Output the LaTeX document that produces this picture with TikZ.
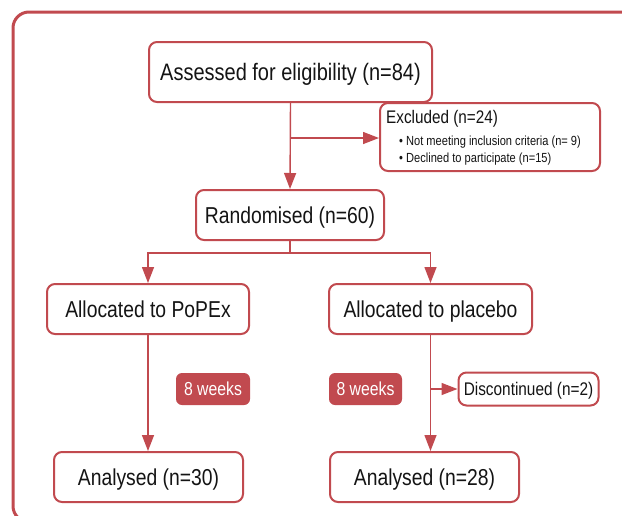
\documentclass[tikz,border=0pt]{standalone}
\usepackage{fontspec}
\setmainfont{Liberation Sans}[FakeStretch=0.84]
\usetikzlibrary{arrows.meta}
\definecolor{cred}{RGB}{193,74,79}
\definecolor{ctext}{RGB}{20,20,20}
\begin{document}
\begin{tikzpicture}[x=1pt,y=-1pt,
  box/.style={draw=cred, line width=2pt, rounded corners=8pt, fill=white, text=ctext, inner sep=0pt, text height=16.5pt, text depth=0pt, font=\fontsize{23}{27}\selectfont},
  wk/.style={fill=cred, rounded corners=6pt, text=white, inner sep=0pt, minimum height=32pt, text height=13.5pt, text depth=0pt, font=\fontsize{18.8}{22}\selectfont},
  txt/.style={anchor=base west, inner sep=0pt, text=ctext},
  conn/.style={draw=cred, line width=1.4pt},
  arr/.style={conn, -{Triangle[length=16pt,width=12pt]}}]
\useasboundingbox (0,0) rectangle (622,515);
\draw[cred, line width=3pt, rounded corners=16pt] (13,12) rectangle (645,522);

\node[box, minimum width=283pt, minimum height=60pt, text height=17pt, font=\fontsize{23.8}{28}\selectfont] (assess) at (290.5,72) {Assessed for eligibility (n=84)};
\node[draw=cred, line width=2pt, rounded corners=8pt, fill=white, minimum width=220pt, minimum height=68pt, anchor=north west, inner sep=0pt] (excl) at (379,102) {};
\node[txt, font=\fontsize{18.2}{21}\selectfont] (exclt) at (386,123) {Excluded (n=24)};
\node[txt, font=\fontsize{13.2}{15}\selectfont] (exb1) at (399,145) {• Not meeting inclusion criteria (n= 9)};
\node[txt, font=\fontsize{13.2}{15}\selectfont] (exb2) at (399,162.5) {• Declined to participate (n=15)};
\node[box, minimum width=188pt, minimum height=50pt] (rand) at (290,215) {Randomised (n=60)};
\node[box, minimum width=202pt, minimum height=50pt] (alloc1) at (148,309) {Allocated to PoPEx};
\node[box, minimum width=203pt, minimum height=50pt] (alloc2) at (430.5,309) {Allocated to placebo};
\node[wk, minimum width=74pt] (wk1) at (213,389) {8 weeks};
\node[wk, minimum width=73pt] (wk2) at (365.5,389) {8 weeks};
\node[box, minimum width=140pt, minimum height=33pt, text height=13.2pt, font=\fontsize{18.3}{22}\selectfont] (disc) at (528.5,389) {Discontinued (n=2)};
\node[box, minimum width=189pt, minimum height=50pt] (an1) at (148.5,477) {Analysed (n=30)};
\node[box, minimum width=189pt, minimum height=50pt] (an2) at (424.5,477) {Analysed (n=28)};

\coordinate (exc) at (290.5,138);
\coordinate (branch) at (290,253);
\coordinate (dsc) at (430.5,389);

\draw[arr] (assess.south) -- (rand.north);
\draw[arr] (exc) -- (exc -| excl.west);
\draw[conn] (rand.south) -- (branch);
\draw[arr] (branch) -| (alloc1.north);
\draw[arr] (branch) -| (alloc2.north);
\draw[arr] (alloc1.south) -- (alloc1.south |- an1.north);
\draw[arr] (alloc2.south) -- (alloc2.south |- an2.north);
\draw[arr] (dsc) -- (disc.west);
\end{tikzpicture}
\end{document}
